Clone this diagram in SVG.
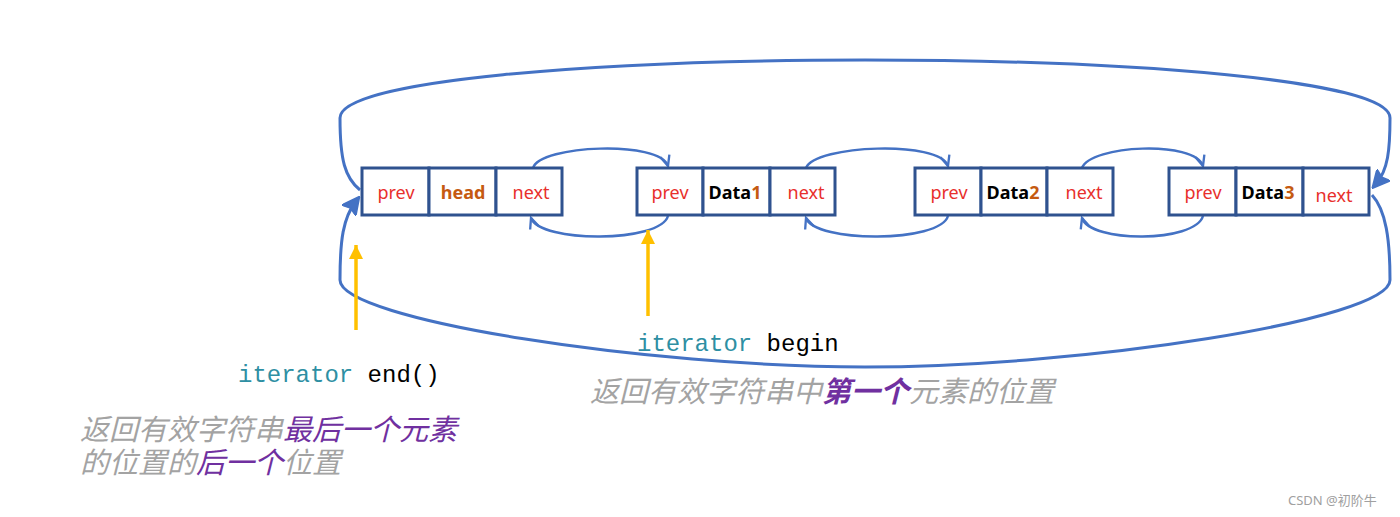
<svg xmlns="http://www.w3.org/2000/svg" width="1400" height="517" viewBox="0 0 1400 517">
<style>
.cell{fill:#fff;stroke:#2F528F;stroke-width:3}
.lbl{font-family:"Noto Sans","Liberation Sans",sans-serif;font-size:18px;text-anchor:middle}
.ptr{fill:#E8302C}
.bold{font-weight:bold}
.num{fill:#C55A11}
.conn{fill:none;stroke:#4472C4;stroke-width:2.5}
.big{fill:none;stroke:#4472C4;stroke-width:3}
.yel{stroke:#FFC000;stroke-width:3.5}
.code{font-family:"Liberation Mono","DejaVu Sans Mono",monospace;font-size:24px}
.kw{fill:#2E8FA3}
.cn{font-family:"Noto Sans CJK SC","Noto Sans",sans-serif;font-size:29px;font-style:italic;fill:#A3A3A3}
.pu{fill:#7030A0}
</style>
<defs>
<marker id="sm" markerUnits="userSpaceOnUse" markerWidth="14" markerHeight="14" refX="10" refY="5" orient="auto" viewBox="0 0 12 10">
<path d="M1,1 L10,5 L1,9" fill="none" stroke="#4472C4" stroke-width="2"/>
</marker>
<marker id="bg" markerUnits="userSpaceOnUse" markerWidth="18" markerHeight="18" refX="8" refY="6" orient="auto" viewBox="0 0 12 12">
<path d="M0,0 L12,6 L0,12 L2,6 z" fill="#4472C4" stroke="#4472C4" stroke-width="1"/>
</marker>
<marker id="ya" markerUnits="userSpaceOnUse" markerWidth="14" markerHeight="14" refX="10" refY="5" orient="auto" viewBox="0 0 10 10">
<path d="M0,0 L10,5 L0,10 z" fill="#FFC000"/>
</marker>
</defs>

<g id="connectors">
<path class="conn" d="M533,168 C540,145 660,140 668,166" marker-end="url(#sm)"/>
<path class="conn" d="M668,216 C660,243 540,243 531,218" marker-end="url(#sm)"/>
<path class="conn" d="M806,168 C815,145 940,140 948,166" marker-end="url(#sm)"/>
<path class="conn" d="M948,216 C940,243 815,243 806,218" marker-end="url(#sm)"/>
<path class="conn" d="M1082,168 C1090,145 1195,140 1203,166" marker-end="url(#sm)"/>
<path class="conn" d="M1203,216 C1195,243 1090,243 1082,218" marker-end="url(#sm)"/>
<path class="big" d="M360,190 C345,178 340,160 340,118 C340,80 600,60 865,60 C1130,60 1390,80 1390,118 C1390,150 1388,170 1376,184" marker-end="url(#bg)"/>
<path class="big" d="M1372,195 C1386,210 1390,240 1390,280 C1390,320 1080,367 865,367 C650,367 340,320 340,280 C340,240 343,218 356,201" marker-end="url(#bg)"/>
<line class="yel" x1="356" y1="330" x2="356" y2="245" marker-end="url(#ya)"/>
<line class="yel" x1="648" y1="316" x2="648" y2="230" marker-end="url(#ya)"/>
</g>

<g id="node-head">
<rect class="cell" x="362" y="168" width="67" height="47"/>
<rect class="cell" x="429" y="168" width="67" height="47"/>
<rect class="cell" x="496" y="168" width="66" height="47"/>
<text class="lbl ptr" x="396" y="199">prev</text>
<text class="lbl bold num" x="463" y="199">head</text>
<text class="lbl ptr" x="531" y="199">next</text>
</g>

<g id="node-data1">
<rect class="cell" x="637" y="168" width="66" height="47"/>
<rect class="cell" x="703" y="168" width="67" height="47"/>
<rect class="cell" x="770" y="168" width="65" height="47"/>
<text class="lbl ptr" x="670" y="199">prev</text>
<text class="lbl bold" x="735" y="199">Data<tspan class="num">1</tspan></text>
<text class="lbl ptr" x="806" y="199">next</text>
</g>

<g id="node-data2">
<rect class="cell" x="915" y="168" width="66" height="47"/>
<rect class="cell" x="981" y="168" width="66" height="47"/>
<rect class="cell" x="1047" y="168" width="66" height="47"/>
<text class="lbl ptr" x="949" y="199">prev</text>
<text class="lbl bold" x="1013" y="199">Data<tspan class="num">2</tspan></text>
<text class="lbl ptr" x="1084" y="199">next</text>
</g>

<g id="node-data3">
<rect class="cell" x="1169" y="168" width="67" height="47"/>
<rect class="cell" x="1236" y="168" width="67" height="47"/>
<rect class="cell" x="1303" y="168" width="66" height="47"/>
<text class="lbl ptr" x="1203" y="199">prev</text>
<text class="lbl bold" x="1268" y="199">Data<tspan class="num">3</tspan></text>
<text class="lbl ptr" x="1334" y="202">next</text>
</g>

<g id="label-end">
<text class="code" x="238" y="382"><tspan class="kw">iterator</tspan> end()</text>
<text class="cn"><tspan x="80" y="440">返回有效字符串<tspan class="pu">最后一个元素</tspan></tspan><tspan x="80" y="473">的位置的<tspan class="pu">后一个</tspan>位置</tspan></text>
</g>

<g id="label-begin">
<text class="code" x="637" y="351"><tspan class="kw">iterator</tspan> begin</text>
<text class="cn" x="590" y="402">返回有效字符串中<tspan class="pu" font-weight="bold">第一个</tspan>元素的位置</text>
</g>

<text x="1288" y="505" font-family="'Noto Sans','Noto Sans CJK SC',sans-serif" font-size="13" fill="#A0A0A0">CSDN @初阶牛</text>
</svg>
